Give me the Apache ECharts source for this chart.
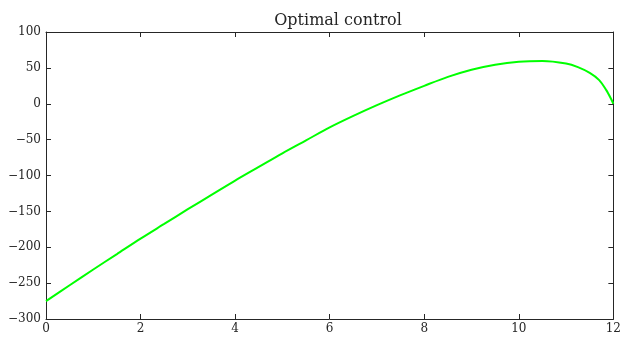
<!DOCTYPE html>
<html>
<head>
<meta charset="utf-8">
<script src="https://cdn.jsdelivr.net/npm/echarts@6/dist/echarts.min.js"></script>
<style>
html,body{margin:0;padding:0;background:#fff;}
#c{width:624px;height:338px;}
</style>
</head>
<body>
<div id="c"></div>
<script>
var titleText = "Optimal control";
var tValues = [0, 0.5, 1, 1.5, 2, 2.5, 3, 3.5, 4, 4.5, 5, 5.5, 6, 6.5, 7, 7.5, 8, 8.5, 9, 9.5, 10, 10.5, 11, 11.25, 11.5, 11.7, 11.85, 11.95, 12];
var uValues = [-275, -253, -231, -209.5, -188, -167.5, -147, -127, -107, -88, -69, -51, -33, -17, -2, 12, 25, 37.5, 47.5, 54.5, 58.5, 59.5, 56, 51, 43, 33, 19, 7, 0];
var xMin = 0, xMax = 12, xStep = 2;
var yMin = -300, yMax = 100, yStep = 50;

var font = "'DejaVu Serif', 'Liberation Serif', serif";
var axisColor = '#262626';
var data = tValues.map(function (t, i) { return [t, uValues[i]]; });
function fmt(v) { return String(v).replace('-', '\u2212'); }

function mkX(pos, show) {
  return {
    type: 'value', position: pos, min: xMin, max: xMax, interval: xStep,
    axisLine: { show: true, onZero: false, lineStyle: { color: axisColor, width: 1 } },
    axisTick: { show: true, inside: true, length: 5, lineStyle: { color: axisColor } },
    axisLabel: { show: show, color: axisColor, fontFamily: font, fontSize: 12, margin: 4 },
    splitLine: { show: false }
  };
}
function mkY(pos, show) {
  return {
    type: 'value', position: pos, min: yMin, max: yMax, interval: yStep,
    axisLine: { show: true, onZero: false, lineStyle: { color: axisColor, width: 1 } },
    axisTick: { show: true, inside: true, length: 5, lineStyle: { color: axisColor } },
    axisLabel: { show: show, color: axisColor, fontFamily: font, fontSize: 12, margin: 5, formatter: fmt },
    splitLine: { show: false }
  };
}

var chart = echarts.init(document.getElementById('c'), null, { renderer: 'canvas' });
chart.setOption({
  animation: false,
  backgroundColor: '#ffffff',
  title: {
    text: titleText, left: 333, top: 8, textAlign: 'center',
    textStyle: { fontFamily: font, fontSize: 16, fontWeight: 'normal', color: axisColor }
  },
  grid: { left: 46, right: 4, top: 32, bottom: 19, containLabel: false },
  xAxis: [mkX('bottom', true), mkX('top', false)],
  yAxis: [mkY('left', true), mkY('right', false)],
  series: [{
    type: 'line', data: data, xAxisIndex: 0, yAxisIndex: 0,
    showSymbol: false, smooth: 0.3,
    lineStyle: { color: '#00ff00', width: 2 }
  }]
});
</script>
</body>
</html>
